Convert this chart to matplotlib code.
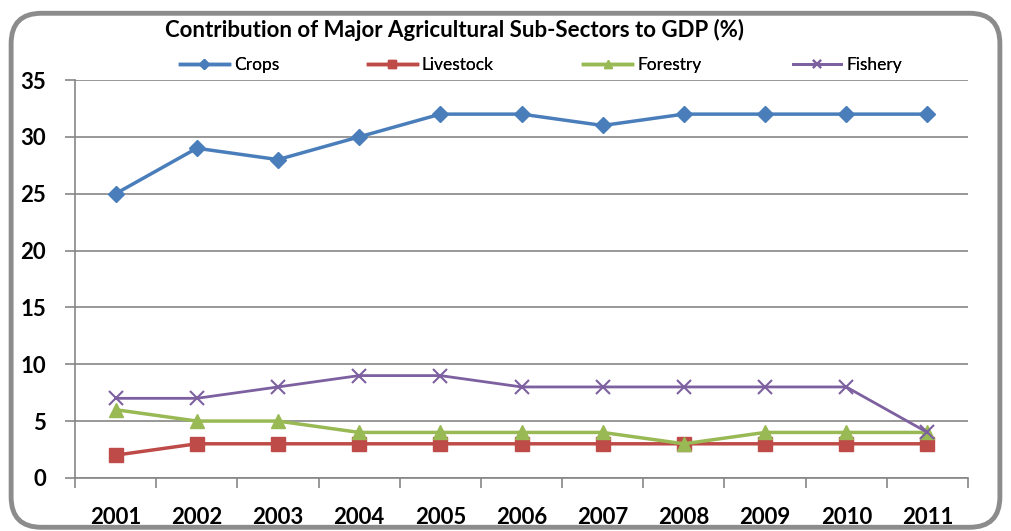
import matplotlib.pyplot as plt
from matplotlib.patches import FancyBboxPatch

years = ["2001", "2002", "2003", "2004", "2005", "2006", "2007", "2008", "2009", "2010", "2011"]
crops = [25, 29, 28, 30, 32, 32, 31, 32, 32, 32, 32]
livestock = [2, 3, 3, 3, 3, 3, 3, 3, 3, 3, 3]
forestry = [6, 5, 5, 4, 4, 4, 4, 3, 4, 4, 4]
fishery = [7, 7, 8, 9, 9, 8, 8, 8, 8, 8, 4]

plt.rcParams["font.family"] = ["Lato", "DejaVu Sans"]

fig = plt.figure(figsize=(10.11, 5.31), dpi=100)

# rounded frame around the chart
frame = FancyBboxPatch((0.011, 0.007), 0.978, 0.968, boxstyle="round,pad=0,rounding_size=0.03",
                       transform=fig.transFigure, facecolor="white", edgecolor="#8c8c8c",
                       linewidth=3.5, mutation_aspect=1011 / 531, zorder=-5)
fig.patches.append(frame)

ax = fig.add_axes([0.0742, 0.1, 0.8833, 0.7493])
ax.set_facecolor("none")
x = list(range(len(years)))

lines = []
lines += ax.plot(x, crops, color="#4A7EBB", lw=2.5, marker="D", ms=8, label="Crops")
lines += ax.plot(x, livestock, color="#BE4B48", lw=2.5, marker="s", ms=10, label="Livestock")
lines += ax.plot(x, forestry, color="#98B954", lw=2.5, marker="^", ms=10, label="Forestry")
lines += ax.plot(x, fishery, color="#7D60A0", lw=2.0, marker="x", ms=10, mew=1.5, label="Fishery")

ax.set_xlim(-0.5, len(years) - 0.5)
ax.set_ylim(0, 35)
ax.set_yticks(range(0, 36, 5))
ax.set_xticks(x)
ax.set_xticklabels(years)
ax.set_xticks([i - 0.5 for i in range(len(years) + 1)], minor=True)
ax.tick_params(axis="x", which="major", length=0, pad=21, labelsize=16)
ax.tick_params(axis="x", which="minor", length=7, color="#868686", width=1.2, direction="out")
ax.tick_params(axis="y", length=7, color="#868686", width=1.2, pad=14, labelsize=16)
for lab in ax.get_xticklabels() + ax.get_yticklabels():
    lab.set_fontweight("bold")

ax.yaxis.grid(True, color="#868686", lw=1.2)
ax.set_axisbelow(True)
for side in ["top", "right"]:
    ax.spines[side].set_visible(False)
for side in ["left", "bottom"]:
    ax.spines[side].set_color("#868686")
    ax.spines[side].set_linewidth(1.2)

fig.text(0.45, 0.943, "Contribution of Major Agricultural Sub-Sectors to GDP (%)",
         ha="center", va="center", fontsize=16, fontweight="bold")

# one legend entry per series, spread across the top
legend_x = [0.178, 0.364, 0.577, 0.784]
for line, lx in zip(lines, legend_x):
    leg = fig.legend(handles=[line], loc="center left", bbox_to_anchor=(lx, 0.877),
                     frameon=False, fontsize=12.5, handlelength=2.8, handletextpad=0.3,
                     borderpad=0, borderaxespad=0, markerscale=0.6)
    fig.add_artist(leg)

fig.savefig("out.png", dpi=100)
